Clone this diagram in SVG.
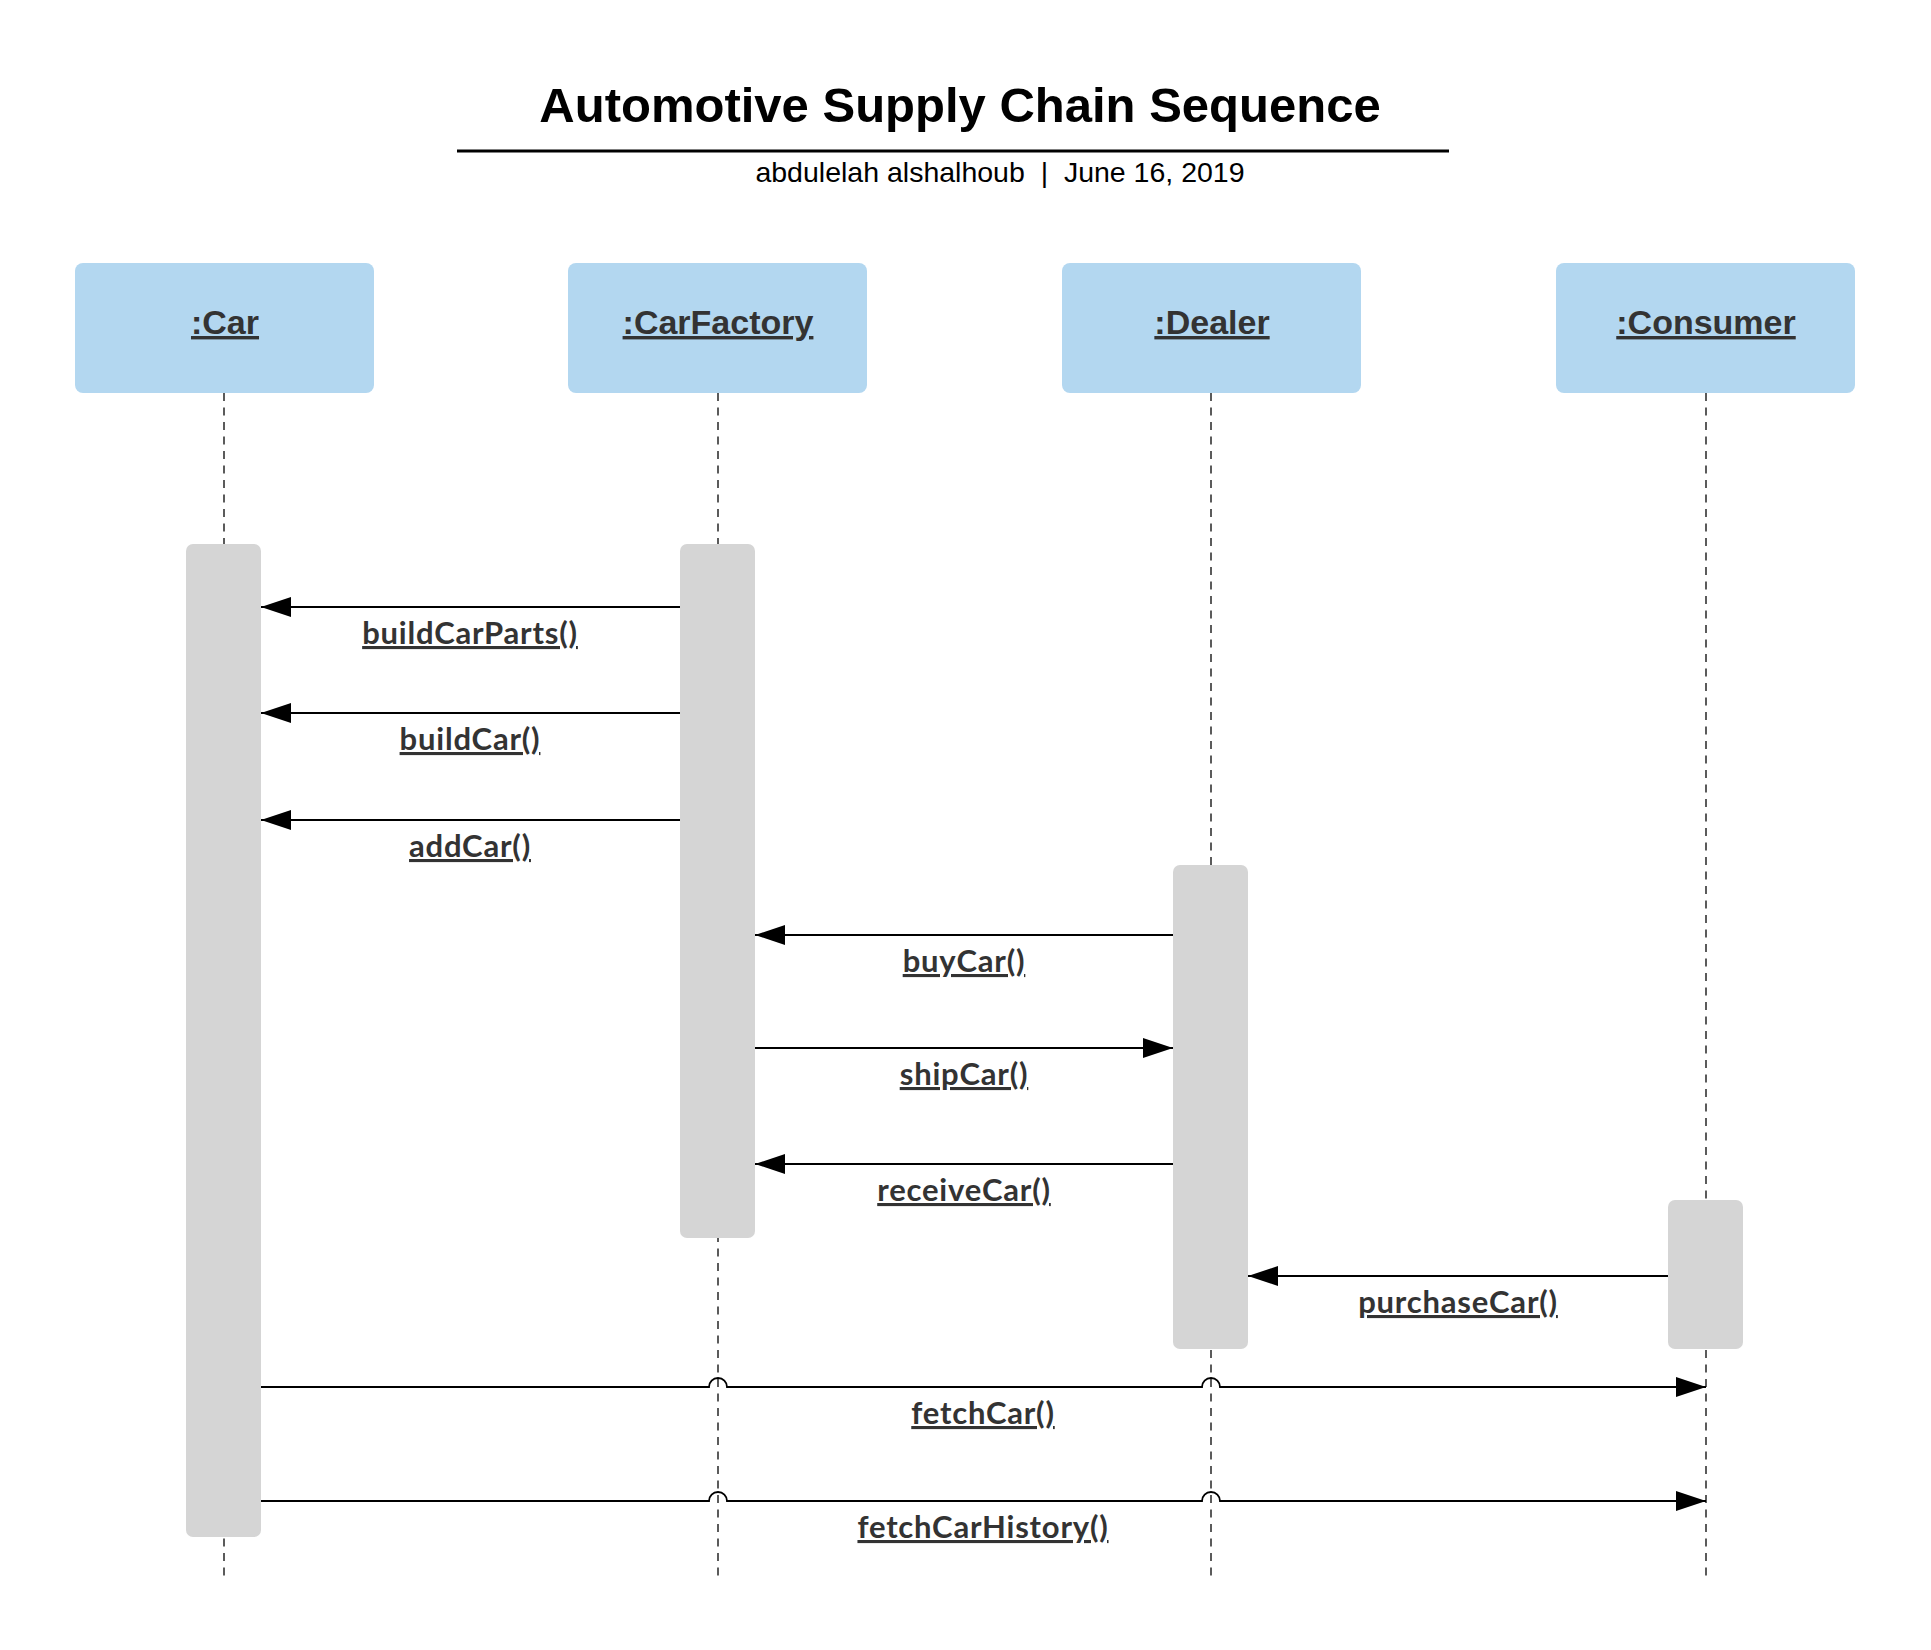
<svg xmlns="http://www.w3.org/2000/svg" width="1931" height="1650" viewBox="0 0 1931 1650">
<style>
.title{font-family:"Liberation Sans",Arial,sans-serif;font-weight:bold;font-size:49px;fill:#000;text-anchor:middle}
.sub{font-family:"Liberation Sans",Arial,sans-serif;font-size:28.5px;fill:#000;text-anchor:middle;white-space:pre}
.hdr{fill:#B3D7F0}
.hdrt{font-family:"Liberation Sans",Arial,sans-serif;font-weight:bold;font-size:34px;fill:#333;text-anchor:middle;text-decoration:underline}
.life{stroke:#333;stroke-width:1.6;stroke-dasharray:8 6.5;fill:none}
.bar{fill:#D5D5D5}
.msg{stroke:#000;stroke-width:1.8;fill:none;marker-end:url(#arr)}
.lbl{font-family:Lato,"Open Sans",sans-serif;font-weight:bold;font-size:31px;letter-spacing:0.8px;fill:#333;text-anchor:middle;text-decoration:underline}
</style>
<defs>
<marker id="arr" markerUnits="userSpaceOnUse" markerWidth="31" markerHeight="21" refX="30" refY="10" orient="auto" viewBox="0 0 31 21">
<path d="M0,0 L30,10 L0,20 Z" fill="#000"/>
</marker>
</defs>
<rect width="1931" height="1650" fill="#fff"/>
<g id="title">
<text class="title" x="960" y="122">Automotive Supply Chain Sequence</text>
<rect x="457" y="149.5" width="992" height="3" fill="#000"/>
<text class="sub" x="1000" y="182" xml:space="preserve">abdulelah alshalhoub  |  June 16, 2019</text>
</g>
<g id="lifelines">
<line class="life" x1="224" y1="393" x2="224" y2="1576"/>
<line class="life" x1="718" y1="393" x2="718" y2="1576"/>
<line class="life" x1="1211" y1="393" x2="1211" y2="1576"/>
<line class="life" x1="1706" y1="393" x2="1706" y2="1576"/>
</g>
<g id="car">
<rect class="hdr" x="75" y="263" width="299" height="130" rx="8"/>
<text class="hdrt" x="225" y="334">:Car</text>
<rect class="bar" x="186" y="544" width="75" height="993" rx="7"/>
</g>
<g id="carfactory">
<rect class="hdr" x="568" y="263" width="299" height="130" rx="8"/>
<text class="hdrt" x="718" y="334">:CarFactory</text>
<rect class="bar" x="680" y="544" width="75" height="694" rx="7"/>
</g>
<g id="dealer">
<rect class="hdr" x="1062" y="263" width="299" height="130" rx="8"/>
<text class="hdrt" x="1212" y="334">:Dealer</text>
<rect class="bar" x="1173" y="865" width="75" height="484" rx="7"/>
</g>
<g id="consumer">
<rect class="hdr" x="1556" y="263" width="299" height="130" rx="8"/>
<text class="hdrt" x="1706" y="334">:Consumer</text>
<rect class="bar" x="1668" y="1200" width="75" height="149" rx="7"/>
</g>
<g id="connectors">
<path class="msg" d="M680,607 H261"/>
<path class="msg" d="M680,713 H261"/>
<path class="msg" d="M680,820 H261"/>
<path class="msg" d="M1173,935 H755"/>
<path class="msg" d="M755,1048 H1173"/>
<path class="msg" d="M1173,1164 H755"/>
<path class="msg" d="M1668,1276 H1248"/>
<path class="msg" d="M261,1387 H709 A9,9 0 0 1 727,1387 H1202 A9,9 0 0 1 1220,1387 H1706"/>
<path class="msg" d="M261,1501 H709 A9,9 0 0 1 727,1501 H1202 A9,9 0 0 1 1220,1501 H1706"/>
<text class="lbl" x="470" y="644">buildCarParts()</text>
<text class="lbl" x="470" y="750">buildCar()</text>
<text class="lbl" x="470" y="857">addCar()</text>
<text class="lbl" x="964" y="972">buyCar()</text>
<text class="lbl" x="964" y="1085">shipCar()</text>
<text class="lbl" x="964" y="1201">receiveCar()</text>
<text class="lbl" x="1458" y="1313">purchaseCar()</text>
<text class="lbl" x="983" y="1424">fetchCar()</text>
<text class="lbl" x="983" y="1538">fetchCarHistory()</text>
</g>
</svg>
